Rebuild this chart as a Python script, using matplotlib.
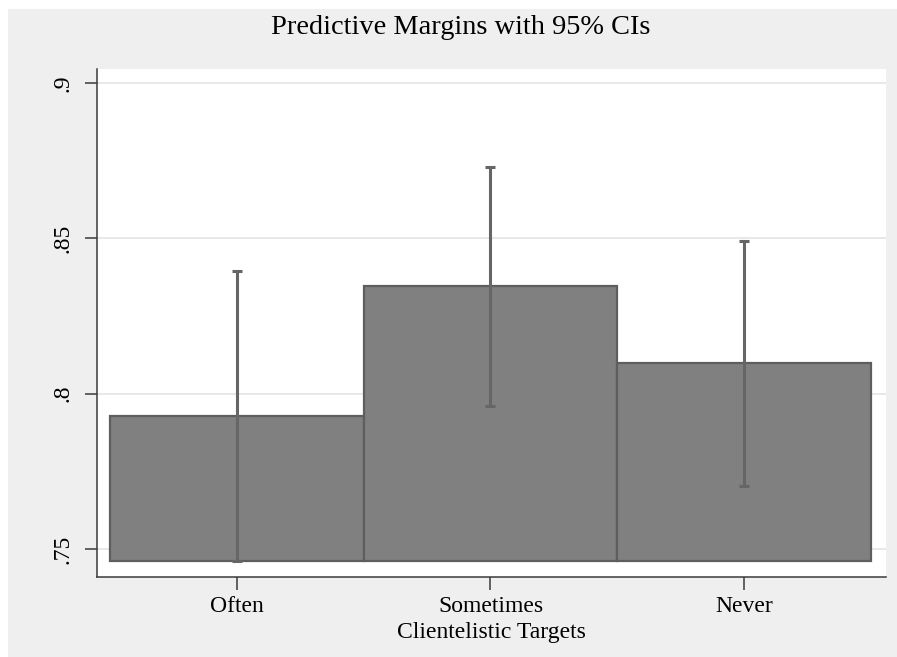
import numpy as np
import matplotlib.pyplot as plt
from matplotlib.patches import Rectangle

plt.rcParams['font.family'] = ['Liberation Serif', 'DejaVu Serif']

# Predictive margins and 95% confidence limits
targets = ['Often', 'Sometimes', 'Never']
margin = [0.7928, 0.8345, 0.8098]
ci_low = [0.7461, 0.7959, 0.7704]
ci_high = [0.8395, 0.8731, 0.8492]
yticks = [0.75, 0.8, 0.85, 0.9]
ytick_labels = ['.75', '.8', '.85', '.9']

x = np.arange(1, len(targets) + 1)
base = min(ci_low)

fig = plt.figure(figsize=(8.97, 6.57), dpi=100)
fig.patch.set_facecolor('white')
# grey graph region, leaving a thin white strip on top and left
fig.patches.append(Rectangle((8 / 897, 0), 1, 1 - 9 / 657, transform=fig.transFigure,
                             facecolor='#efefef', edgecolor='none', zorder=-10))

ax = fig.add_axes([97 / 897, 1 - 577 / 657, (886 - 97) / 897, (577 - 69) / 657])
ax.set_facecolor('white')

heights = [m - base for m in margin]
ax.bar(x, heights, bottom=base, width=1.0, color='#808080', edgecolor='#5e5e5e',
       linewidth=1.6, zorder=2)

err = [np.array(margin) - np.array(ci_low), np.array(ci_high) - np.array(margin)]
ax.errorbar(x, margin, yerr=err, fmt='none', ecolor='#666666', elinewidth=2.2,
            capsize=3.5, capthick=2.2, zorder=3)

ax.set_xlim(0.448, 3.56)
ax.set_ylim(0.741, 0.9045)
ax.set_yticks(yticks)
ax.set_yticklabels(ytick_labels, rotation=90, va='center', fontsize=17)
ax.set_xticks(x)
ax.set_xticklabels(targets, fontsize=17)
ax.yaxis.grid(True, color='#e8e8e8', linewidth=1.4, zorder=0)
ax.set_axisbelow(True)

for side in ['top', 'right']:
    ax.spines[side].set_visible(False)
for side in ['left', 'bottom']:
    ax.spines[side].set_color('#3a3a3a')
    ax.spines[side].set_linewidth(1.1)
ax.tick_params(axis='both', color='#3a3a3a', length=9, width=1.1)
ax.tick_params(axis='y', pad=8)
ax.tick_params(axis='x', pad=5)

ax.set_xlabel('Clientelistic Targets', fontsize=17, labelpad=3)
fig.text(461 / 897, 1 - 28 / 657, 'Predictive Margins with 95% CIs', fontsize=20.4,
         ha='center', va='center')

fig.savefig('out.png', dpi=100)
